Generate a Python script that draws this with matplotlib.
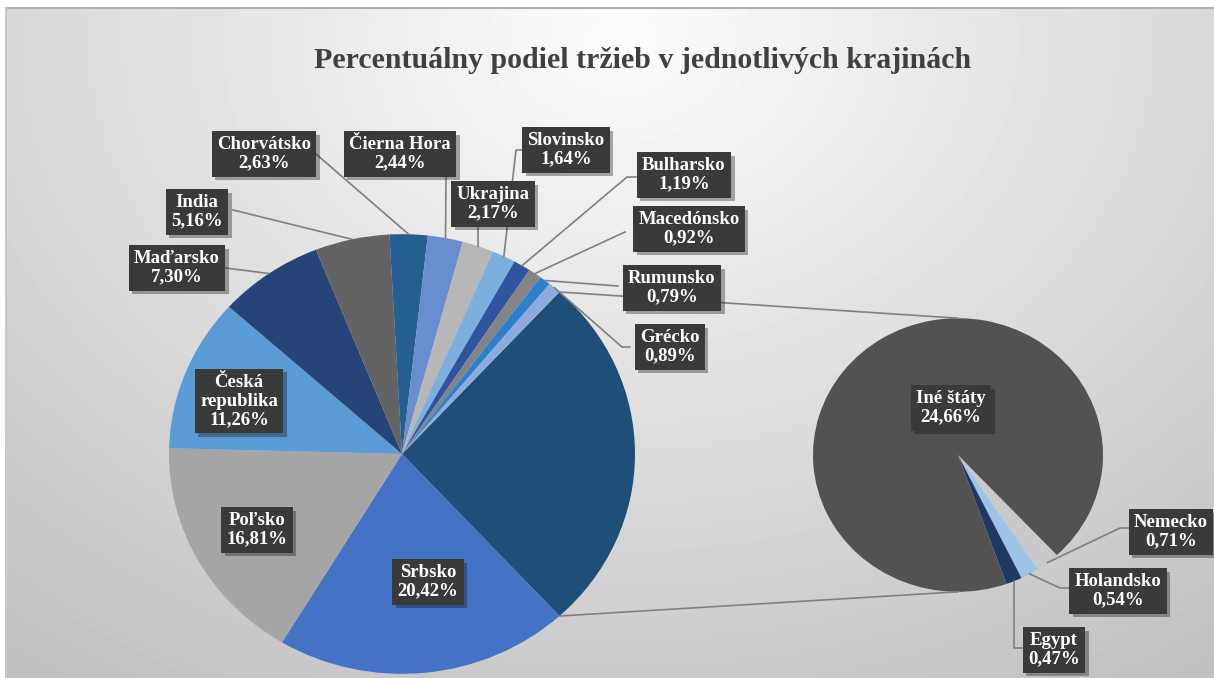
import numpy as np
import matplotlib.pyplot as plt
import matplotlib.patheffects as pe

# first pie (countries shown individually)
countries = ['Srbsko', 'Poľsko', 'Česká\nrepublika', 'Maďarsko', 'India', 'Chorvátsko',
             'Čierna Hora', 'Ukrajina', 'Slovinsko', 'Bulharsko', 'Macedónsko', 'Rumunsko', 'Grécko']
shares = [20.42, 16.81, 11.26, 7.30, 5.16, 2.63, 2.44, 2.17, 1.64, 1.19, 0.92, 0.79, 0.89]
colors = ['#4472C4', '#A5A5A5', '#5B9BD5', '#264478', '#636363', '#255E91',
          '#698ED0', '#B7B7B7', '#7CAFDD', '#2F55A0', '#848484', '#2E7FCC', '#8FAADC']

# second pie (split of the "other" slice)
rest = ['Nemecko', 'Holandsko', 'Egypt', 'Iné štáty']
rest_shares = [0.71, 0.54, 0.47, 24.66]
rest_colors = ['#C9C9C9', '#9DC3E6', '#203864', '#525252']
other_color = '#1F4E79'

title = 'Percentuálny podiel tržieb v jednotlivých krajinách'

W, H = 1214, 678
S = 1.06  # the original picture is a bit wider than tall


def P(x, y):
    return x, (H - y) * S


fig = plt.figure(figsize=(12.14, 6.78), dpi=100)
ax = fig.add_axes([0, 0, 1, 1])

# soft radial background like the Excel chart area
yy, xx = np.mgrid[0:H, 0:W]
d = np.hypot(xx - 620, (yy - 40) * 1.3)
g = np.clip(252 - 0.06 * d, 0, 255) / 255
g[:8, :] = 1
g[:, :6] = 1
ax.imshow(g, cmap='gray', vmin=0, vmax=1, extent=(0, W, 0, H * S),
          origin='upper', aspect='auto', zorder=0, interpolation='bilinear')
ax.plot([6, W], [P(0, 8)[1]] * 2, color='#AFAFAF', lw=1.5, zorder=1)
ax.plot([6, 6], [0, P(0, 8)[1]], color='#C8C8C8', lw=1.5, zorder=1)

# pies
c1, r1 = P(402, 454), 233
c2, r2 = P(958, 455), 145
other = sum(rest_shares)
w1, _ = ax.pie([other] + shares, colors=[other_color] + colors,
               startangle=other / 100 * 180, counterclock=False,
               radius=r1, center=c1, frame=True, wedgeprops=dict(linewidth=0))
w2, _ = ax.pie(rest_shares, colors=rest_colors, startangle=-47, counterclock=False,
               radius=r2, center=c2, frame=True, wedgeprops=dict(linewidth=0))


def edge_point(w, frac=1.0):
    a = np.deg2rad((w.theta1 + w.theta2) / 2)
    cx, cy = w.center
    return cx + frac * w.r * np.cos(a), cy + frac * w.r * np.sin(a)


# connector lines between the pies
ow = w1[0]
for ang, yp in [(ow.theta2, c2[1] + r2), (ow.theta1, c2[1] - r2)]:
    a = np.deg2rad(ang)
    ax.plot([c1[0] + r1 * np.cos(a), c2[0]], [c1[1] + r1 * np.sin(a), yp],
            color='#808080', lw=1.2, zorder=2)


def fmt(v):
    return f'{v:.2f}%'.replace('.', ',')


def label(xp, yp, txt):
    t = ax.text(*P(xp, yp), txt, ha='center', va='center', color='white',
                fontsize=13.5, fontweight='bold', family='Liberation Serif',
                linespacing=1.1, zorder=6,
                bbox=dict(boxstyle='square,pad=0.28', fc='#3A3A3A', ec='none'))
    t.get_bbox_patch().set_path_effects(
        [pe.SimplePatchShadow(offset=(2.5, -2.5), alpha=0.35), pe.Normal()])


# label box centres and leader line starts (pixels)
main_pos = {
    'Srbsko': ((428, 582), None),
    'Poľsko': ((257, 530), None),
    'Česká\nrepublika': ((239, 401), None),
    'Maďarsko': ((177, 268), [(226, 268)]),
    'India': ((197, 212), [(233, 210)]),
    'Chorvátsko': ((264, 154), [(316, 154)]),
    'Čierna Hora': ((400, 154), [(446, 178)]),
    'Ukrajina': ((493, 204), [(478, 228)]),
    'Slovinsko': ((566, 150), [(526, 150), (516, 150)]),
    'Bulharsko': ((684, 175), [(636, 177), (627, 177)]),
    'Macedónsko': ((689, 229), [(625, 232)]),
    'Rumunsko': ((672, 288), [(618, 286)]),
    'Grécko': ((670, 347), [(630, 347), (622, 347)]),
}
rest_pos = {
    'Iné štáty': ((951, 408), None),
    'Nemecko': ((1171, 532), [(1129, 528), (1120, 528)]),
    'Holandsko': ((1118, 591), [(1069, 588), (1060, 588)]),
    'Egypt': ((1054, 650), [(1022, 648), (1014, 648)]),
}

for wedges, names, vals, pos in [(w1[1:], countries, shares, main_pos),
                                 (w2, rest, rest_shares, rest_pos)]:
    for w, name, v in zip(wedges, names, vals):
        (bx, by), path = pos[name]
        label(bx, by, name + '\n' + fmt(v))
        if path:
            pts = [P(*p) for p in path] + [edge_point(w)]
            ax.plot([p[0] for p in pts], [p[1] for p in pts], color='#808080',
                    lw=1.2, zorder=3)

ax.text(*P(643, 60), title, ha='center', va='center', fontsize=21.5,
        fontweight='bold', family='Liberation Serif', color='#404040', zorder=6)

ax.set_aspect('auto')
ax.set_xlim(0, W)
ax.set_ylim(0, H * S)
ax.axis('off')

fig.savefig('out.png', dpi=100)
